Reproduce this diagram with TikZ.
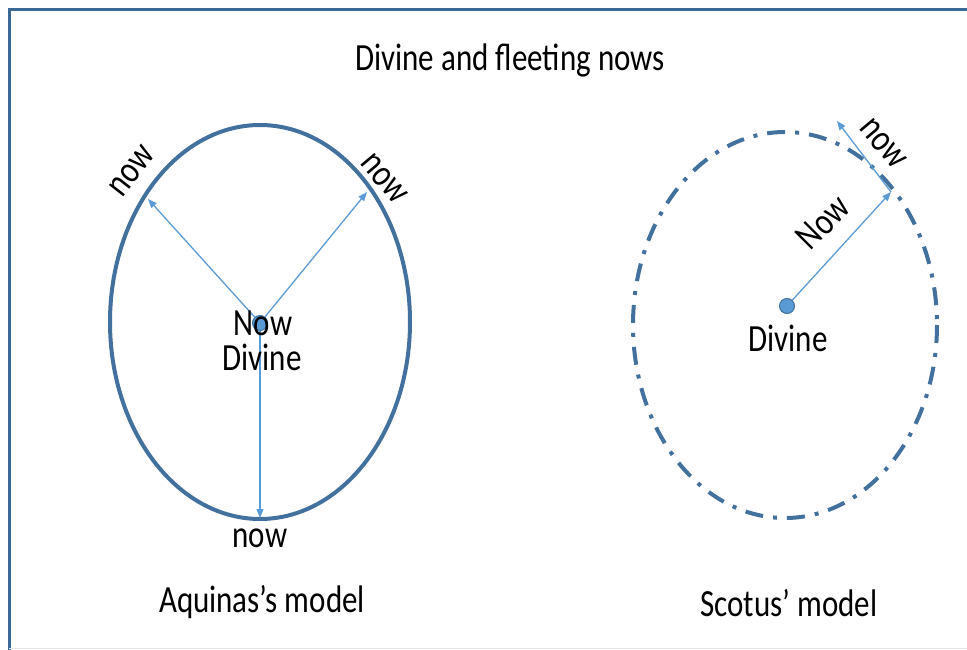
\documentclass[tikz,border=0pt]{standalone}
\usepackage{fontspec}
\setmainfont{Carlito}
\usetikzlibrary{arrows.meta}
\definecolor{rimblue}{HTML}{41719C}
\definecolor{nowblue}{HTML}{5B9BD5}
\definecolor{framecol}{HTML}{3B6896}
\newcommand{\stretchtxt}[1]{\scalebox{1}[1.24]{#1}}
\tikzset{
  txt/.style={font=\fontsize{31}{36}\selectfont, inner sep=0pt},
  rim/.style={draw=rimblue, line width=4pt},
  nowarrow/.style={draw=nowblue, line width=1.3pt, -{Triangle[length=9pt,width=7pt]}},
  dotnode/.style={circle, draw=rimblue, fill=nowblue, line width=1pt, minimum size=15pt, inner sep=0pt}
}
\begin{document}
\begin{tikzpicture}[x=1pt,y=-1pt]
  \useasboundingbox (0,0) rectangle (967,650);
  % frame
  \draw[framecol, line width=3pt] (9,650) -- (9,10) -- (967,10);
  \draw[black!10, line width=0.8pt] (9,648.5) -- (967,648.5);

  \node[txt] (title) at (510,60) {\stretchtxt{Divine and fleeting nows}};

  % Aquinas's model
  \draw[rim] (260,322) ellipse [x radius=150, y radius=197];
  \node[dotnode] (dotA) at (260,323) {};
  \coordinate (tipAl) at (148,199);
  \coordinate (tipAr) at (367,192);
  \coordinate (tipAb) at (260,518);
  \draw[nowarrow] (dotA) -- (tipAl);
  \draw[nowarrow] (dotA) -- (tipAr);
  \draw[nowarrow] (dotA) -- (tipAb);
  \node[txt] (nowA) at (263,323) {\stretchtxt{Now}};
  \node[txt] (divA) at (262,357) {\stretchtxt{Divine}};
  \node[txt, rotate=52] (nowAl) at (132,171) {\stretchtxt{now}};
  \node[txt, rotate=-50] (nowAr) at (384,179) {\stretchtxt{now}};
  \node[txt] (nowAb) at (260,538) {\stretchtxt{now}};
  \node[txt] (aquinas) at (262,602) {\stretchtxt{Aquinas’s model}};

  % Scotus' model
  \draw[rim, dash pattern=on 18pt off 10pt on 4pt off 10pt] (785,325) ellipse [x radius=152, y radius=193];
  \node[dotnode] (dotS) at (787,306) {};
  \coordinate (tipSr) at (891,192);
  \coordinate (tipSt) at (837,121);
  \draw[nowarrow] (dotS) -- (tipSr);
  \draw[nowarrow] (tipSr) -- (tipSt);
  \node[txt, rotate=45] (nowSr) at (823,222) {\stretchtxt{Now}};
  \node[txt, rotate=-50] (nowSt) at (883,144) {\stretchtxt{now}};
  \node[txt] (divS) at (788,338) {\stretchtxt{Divine}};
  \node[txt] (scotus) at (789,603) {\stretchtxt{Scotus’ model}};
\end{tikzpicture}
\end{document}
